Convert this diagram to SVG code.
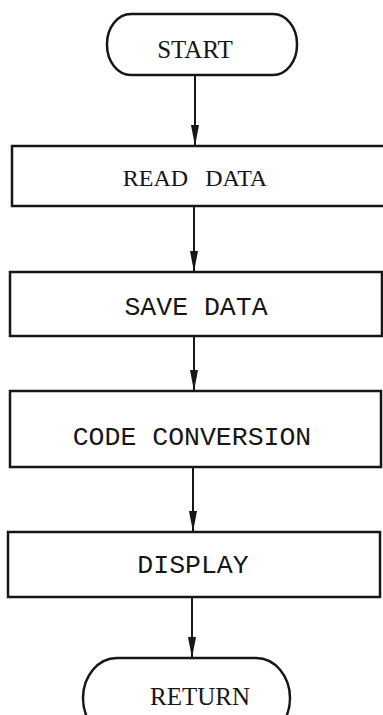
<svg xmlns="http://www.w3.org/2000/svg" width="383" height="715" viewBox="0 0 383 715">
<defs>
<style>
.box{fill:none;stroke:#161616;stroke-width:2.5}
.serif{font-family:"Liberation Serif","Times New Roman",serif;font-size:25px;fill:#161616;text-anchor:middle}
.mono{font-family:"Liberation Mono","Courier New",monospace;font-size:26.5px;fill:#161616;text-anchor:middle}
.conn{stroke:#161616;stroke-width:2;fill:none;marker-end:url(#arr)}
</style>
<marker id="arr" markerUnits="userSpaceOnUse" markerWidth="22" markerHeight="10" refX="21" refY="4.5" orient="auto">
<path d="M0,0.5 L21,4.5 L0,8.5 z" fill="#161616"/>
</marker>
</defs>
<rect width="383" height="715" fill="#ffffff"/>
<g id="connectors">
<line class="conn" x1="195" y1="75" x2="195" y2="146"/>
<line class="conn" x1="194" y1="206" x2="194" y2="272"/>
<line class="conn" x1="194" y1="336" x2="194" y2="391"/>
<line class="conn" x1="193" y1="467" x2="193" y2="532"/>
<line class="conn" x1="192" y1="597" x2="192" y2="658"/>
</g>
<g id="start">
<rect class="box" x="107" y="14" width="190" height="61" rx="24" ry="30"/>
<text class="serif" x="195" y="58">START</text>
</g>
<g id="read">
<rect class="box" x="12" y="146" width="380" height="60"/>
<text class="serif" x="195" y="186" style="font-size:24px;word-spacing:11px">READ DATA</text>
</g>
<g id="save">
<rect class="box" x="10" y="272" width="372" height="64"/>
<text class="mono" x="196" y="315">SAVE DATA</text>
</g>
<g id="code">
<rect class="box" x="10" y="391" width="371" height="76"/>
<text class="mono" x="192" y="445">CODE CONVERSION</text>
</g>
<g id="display">
<rect class="box" x="8" y="532" width="372" height="65"/>
<text class="mono" x="193" y="573">DISPLAY</text>
</g>
<g id="return">
<rect class="box" x="83" y="658" width="207" height="80" rx="34" ry="40"/>
<text class="serif" x="200" y="705">RETURN</text>
</g>
</svg>
